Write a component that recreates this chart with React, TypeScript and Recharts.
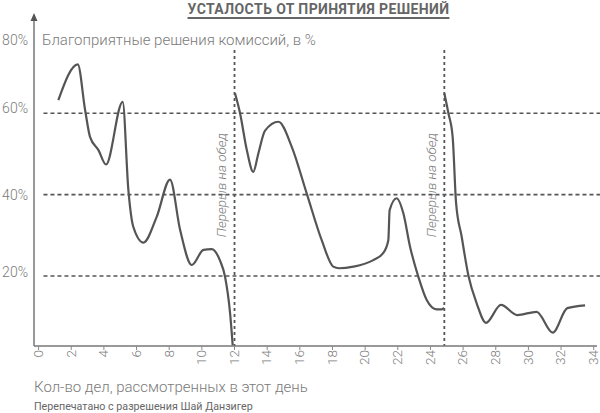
import { LineChart, Line, XAxis, YAxis, ReferenceLine } from 'recharts';

// Сессия до первого перерыва
const morningX = [1.21, 2.4, 2.85, 3.15, 3.66, 4.13, 5.15, 5.5, 5.8, 6.42, 7.24, 8.05, 8.67, 9.38, 10.1, 10.6, 11.1, 11.42, 11.73, 11.89];
const morningY = [63.2, 72.0, 60.8, 54.2, 51.0, 47.4, 62.8, 41.1, 32.1, 28.2, 34.6, 43.7, 31.3, 22.7, 26.4, 26.6, 23.9, 19.8, 10.8, 2.9];

// После первого перерыва
const middayX = [12.03, 12.34, 12.75, 13.15, 13.46, 13.87, 14.69, 15.5, 16.42, 17.34, 18.05, 18.4, 19.28, 20.5, 21.1, 21.42, 21.5, 21.93, 22.34, 22.75, 23.26, 23.77, 24.38, 24.69, 24.83];
const middayY = [64.9, 60.0, 51.0, 45.6, 50.1, 55.7, 57.9, 51.8, 40.3, 28.8, 22.3, 21.9, 22.3, 23.9, 25.6, 28.8, 36.2, 39.1, 35.4, 27.2, 19.8, 14.1, 11.8, 11.8, 12.2];

// После второго перерыва
const afternoonX = [24.85, 25.1, 25.36, 25.57, 25.91, 26.32, 26.83, 27.4, 28.32, 29.32, 30.5, 31.49, 32.38, 33.47];
const afternoonY = [64.9, 60.0, 54.2, 37.9, 29.7, 20.2, 13.3, 8.5, 12.9, 10.4, 11.2, 6.1, 12.1, 12.8];

const xTicks = [0, 2, 4, 6, 8, 10, 12, 14, 16, 18, 20, 22, 24, 26, 28, 30, 32, 34];
const yTicks = [20, 40, 60, 80];
const gridLevels = [20, 40, 60];
const lunchBreaks = [12, 24.85];

const title = 'УСТАЛОСТЬ ОТ ПРИНЯТИЯ РЕШЕНИЙ';
const yTitle = 'Благоприятные решения комиссий, в %';
const xTitle = 'Кол-во дел, рассмотренных в этот день';
const credit = 'Перепечатано с разрешения Шай Данзигер';
const breakLabel = 'Перерыв на обед';

const toPoints = (xs: number[], ys: number[]) => xs.map((x, i) => ({ x, y: ys[i] }));
const sessions = [toPoints(morningX, morningY), toPoints(middayX, middayY), toPoints(afternoonX, afternoonY)];

const FONT = 'Roboto, "Noto Sans", sans-serif';
const TEXT = '#7a7a7a';
const INK = '#555';

const Y_LABEL_SHIFT: Record<number, number> = { 80: 8, 60: -5, 20: -4 };

const YTick = ({ y, payload }: any) => (
  <text
    x={28}
    y={y + (Y_LABEL_SHIFT[payload.value] ?? 0)}
    dy="0.35em"
    textAnchor="end"
    fontFamily={FONT}
    fontWeight={300}
    fontSize={14}
    fill={TEXT}
  >
    {payload.value}%
  </text>
);

const XTick = ({ x, y, payload }: any) => (
  <text
    x={x}
    y={y}
    dy="0.32em"
    textAnchor="end"
    transform={`rotate(-90 ${x} ${y})`}
    fontFamily={FONT}
    fontWeight={300}
    fontSize={13.5}
    fill={TEXT}
  >
    {payload.value}
  </text>
);

const AxisArrow = ({ viewBox }: any) => {
  const ax = viewBox.x + viewBox.width;
  const top = viewBox.y - 2;
  return <path d={`M${ax - 3.5},${top + 8} L${ax},${top} L${ax + 3.5},${top + 8} Z`} fill={INK} />;
};

const BreakLabel = ({ viewBox }: any) => (
  <text
    x={viewBox.x - 13}
    y={viewBox.y + 135}
    dy="0.35em"
    textAnchor="middle"
    transform={`rotate(-90 ${viewBox.x - 13} ${viewBox.y + 135})`}
    fontFamily={FONT}
    fontStyle="italic"
    fontWeight={300}
    fontSize={13.5}
    fill={TEXT}
  >
    {breakLabel}
  </text>
);

export default function App() {
  return (
    <div style={{ position: 'absolute', left: 0, top: 0, width: 600, height: 413, background: '#fff' }}>
      <LineChart width={600} height={413} margin={{ top: 15, right: 3, bottom: 0, left: 0 }}>
        <XAxis
          type="number"
          dataKey="x"
          domain={[-0.28, 34.2]}
          ticks={xTicks}
          interval={0}
          allowDataOverflow
          height={67}
          tickSize={4}
          tickMargin={0}
          tickLine={{ stroke: '#888' }}
          axisLine={{ stroke: '#777', strokeWidth: 1.5 }}
          tick={<XTick />}
        />
        <YAxis
          type="number"
          dataKey="y"
          domain={[2.8, 84.13]}
          ticks={yTicks}
          interval={0}
          allowDataOverflow
          width={34}
          tickLine={false}
          axisLine={{ stroke: '#777', strokeWidth: 1.5 }}
          tick={<YTick />}
          label={<AxisArrow />}
        />
        {gridLevels.map((v) => (
          <ReferenceLine
            key={`g${v}`}
            ifOverflow="visible"
            segment={[{ x: 0.3, y: v }, { x: 34.4, y: v }]}
            stroke={INK}
            strokeWidth={1.6}
            strokeDasharray="4 3"
          />
        ))}
        {lunchBreaks.map((v) => (
          <ReferenceLine
            key={`b${v}`}
            ifOverflow="visible"
            segment={[{ x: v, y: 75.5 }, { x: v, y: 2.8 }]}
            stroke={INK}
            strokeWidth={1.8}
            strokeDasharray="3 3"
            label={<BreakLabel />}
          />
        ))}
        {sessions.map((pts, i) => (
          <Line
            key={i}
            data={pts}
            dataKey="y"
            type="monotone"
            stroke={INK}
            strokeWidth={2.2}
            dot={false}
            activeDot={false}
            isAnimationActive={false}
          />
        ))}
      </LineChart>

      <div
        style={{
          position: 'absolute',
          left: 150,
          width: 337,
          top: 2,
          textAlign: 'center',
          fontFamily: FONT,
          fontWeight: 700,
          fontSize: 14,
          lineHeight: '15px',
          letterSpacing: 0.4,
          color: '#666',
          textDecoration: 'underline',
          textDecorationThickness: '1.5px',
          textUnderlineOffset: '3px',
        }}
      >
        {title}
      </div>
      <div style={{ position: 'absolute', left: 42, top: 32, fontFamily: FONT, fontWeight: 300, fontSize: 15, lineHeight: '16px', color: TEXT }}>
        {yTitle}
      </div>
      <div style={{ position: 'absolute', left: 34, top: 379, fontFamily: FONT, fontWeight: 300, fontSize: 15, lineHeight: '16px', color: TEXT }}>
        {xTitle}
      </div>
      <div style={{ position: 'absolute', left: 34, top: 401, fontFamily: FONT, fontSize: 10.7, lineHeight: '12px', color: '#666' }}>
        {credit}
      </div>
    </div>
  );
}
